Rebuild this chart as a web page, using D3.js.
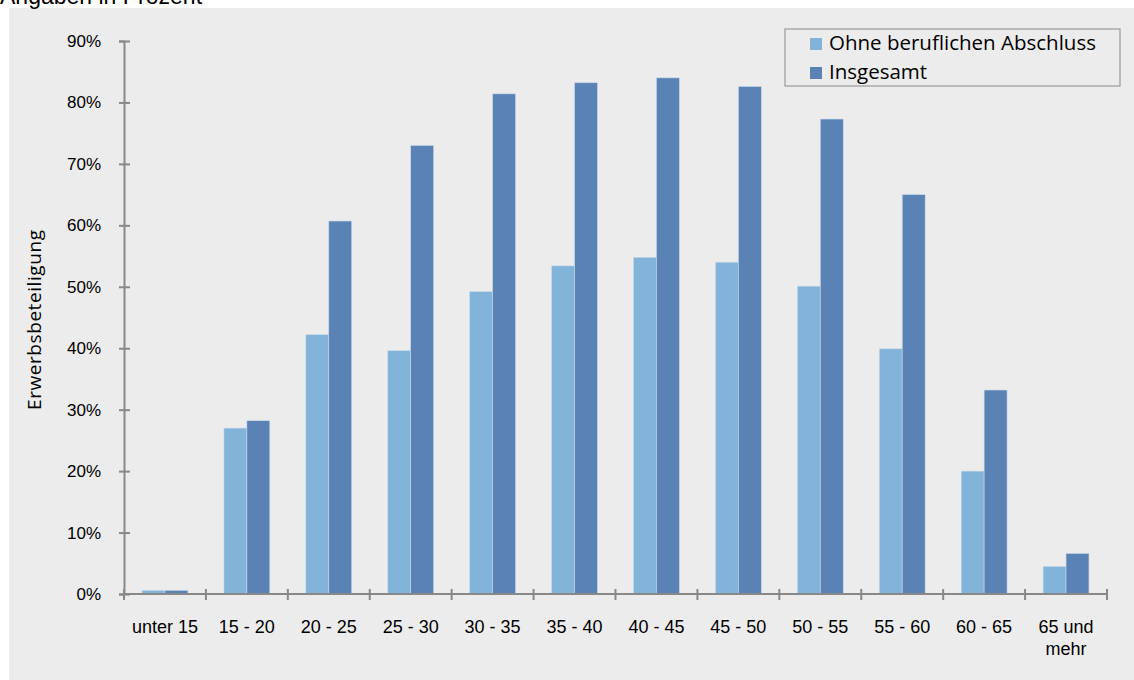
<!DOCTYPE html>
<html><head><meta charset="utf-8">
<script src="https://cdn.jsdelivr.net/npm/d3@7"></script>
<style>body{margin:0;background:#fff}svg{display:block}</style>
</head><body>
<svg id="c" width="1134" height="680"></svg>
<script>
const categories = ["unter 15","15 - 20","20 - 25","25 - 30","30 - 35","35 - 40","40 - 45","45 - 50","50 - 55","55 - 60","60 - 65","65 und\nmehr"];
const seriesNames = ["Ohne beruflichen Abschluss","Insgesamt"];
const ohneAbschluss = [0.6,27.0,42.2,39.6,49.2,53.4,54.8,54.0,50.1,39.9,20.0,4.5];
const insgesamt = [0.6,28.2,60.7,73.0,81.4,83.2,84.0,82.6,77.3,65.0,33.2,6.6];
const yTicks = [0,10,20,30,40,50,60,70,80,90];
const colors = ["#82b3d8","#5a82b5"];

const font = "Liberation Sans, Arial, sans-serif";
const svg = d3.select("#c");
svg.append("rect").attr("x",9).attr("y",8).attr("width",1125).attr("height",672).attr("fill","#ececec");
svg.append("text").attr("x",0).attr("y",4).attr("font-family",font).attr("font-size",23).attr("fill","#000").text("Angaben in Prozent");

const x0 = d3.scaleBand().domain(categories).range([124,1107]).paddingInner(0.44).paddingOuter(0.22);
const x1 = d3.scaleBand().domain(seriesNames).range([0,x0.bandwidth()]);
const y = d3.scaleLinear().domain([0,90]).range([594,41]);

const data = categories.map((c,i)=>({c, vals:[ohneAbschluss[i],insgesamt[i]]}));
const g = svg.append("g");
g.selectAll("g.cat").data(data).join("g").attr("transform",d=>`translate(${x0(d.c)},0)`)
 .selectAll("rect").data(d=>d.vals.map((v,k)=>({v,k}))).join("rect")
 .attr("x",d=>x1(seriesNames[d.k])).attr("width",x1.bandwidth())
 .attr("y",d=>y(d.v)).attr("height",d=>y(0)-y(d.v))
 .attr("fill",d=>colors[d.k]).attr("stroke","#c9d9ea").attr("stroke-width",0.6);

const axisColor = "#888";
// y axis
const ya = svg.append("g").attr("transform","translate(124,0)")
 .call(d3.axisLeft(y).tickValues(yTicks).tickFormat(d=>d+"%").tickSize(5).tickPadding(18));
ya.select(".domain").attr("stroke",axisColor).attr("stroke-width",2);
ya.selectAll(".tick line").attr("stroke",axisColor).attr("stroke-width",2).attr("x1",6).attr("x2",-5);
ya.selectAll(".tick text").attr("font-family",font).attr("font-size",17).attr("fill","#000");

// x axis
const xa = svg.append("g").attr("transform","translate(0,594)");
xa.append("line").attr("x1",124).attr("x2",1107).attr("stroke",axisColor).attr("stroke-width",2);
const step = x0.step();
const bounds = categories.map((c,i)=>x0(c)-x0.paddingInner()*step/2);
bounds.push(1107);
xa.selectAll("line.t").data(bounds).join("line").attr("class","t")
 .attr("x1",d=>d).attr("x2",d=>d).attr("y1",-5).attr("y2",6).attr("stroke",axisColor).attr("stroke-width",2);
const xl = xa.selectAll("text.l").data(categories).join("text").attr("class","l")
 .attr("x",d=>x0(d)+x0.bandwidth()/2).attr("y",39).attr("text-anchor","middle")
 .attr("font-family",font).attr("font-size",18).attr("fill","#000");
xl.each(function(d){
  const parts=d.split("\n");
  d3.select(this).selectAll("tspan").data(parts).join("tspan")
   .attr("x",x0(d)+x0.bandwidth()/2).attr("dy",(p,i)=>i?22:0).text(p=>p);
});

// y label
svg.append("text").attr("transform","translate(41,320) rotate(-90)").attr("text-anchor","middle")
 .attr("font-family","Open Sans, sans-serif").attr("font-size",19).attr("fill","#000")
 .attr("textLength",180).attr("lengthAdjust","spacing").text("Erwerbsbeteiligung");

// legend
const lg = svg.append("g");
lg.append("rect").attr("x",785).attr("y",29).attr("width",335).attr("height",57).attr("fill","none").attr("stroke","#999").attr("stroke-width",1.2);
seriesNames.forEach((n,i)=>{
  lg.append("rect").attr("x",810).attr("y",38+i*29).attr("width",12).attr("height",12).attr("fill",colors[i]);
  lg.append("text").attr("x",829).attr("y",50+i*29).attr("font-family","Open Sans, sans-serif").attr("font-size",20.5).attr("fill","#000").text(n);
});
</script>
</body></html>
